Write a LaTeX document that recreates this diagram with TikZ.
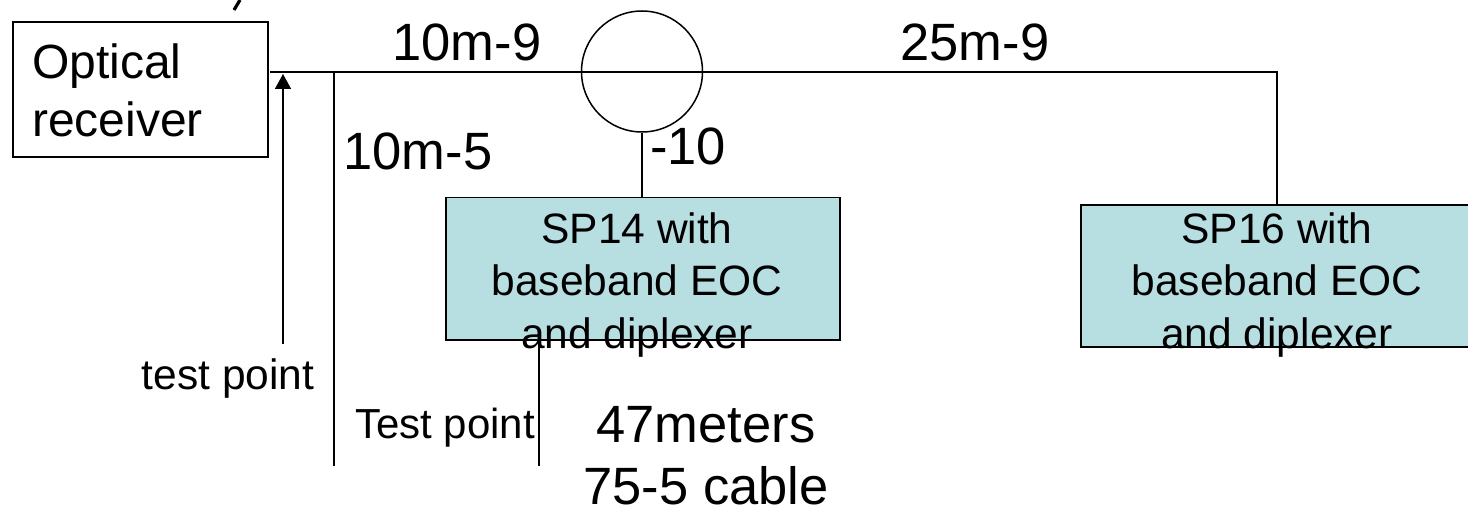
\documentclass[tikz,border=0pt]{standalone}
\usepackage{fontspec}
\setmainfont{Liberation Sans}
\usetikzlibrary{arrows.meta}
\tikzset{
  px/.style={x=1pt,y=-1pt},
  wire/.style={draw=black,line width=1.5pt},
  boxa/.style={draw=black,line width=1.7pt,minimum width=255pt,minimum height=135pt,inner sep=0pt,anchor=north west},
  spbox/.style={draw=black,fill=spfill,line width=1.5pt,inner sep=0pt,anchor=north west,minimum height=142pt},
  rxfont/.style={font=\fontsize{48}{58}\selectfont,inner sep=0pt,align=left},
  big/.style={font=\fontsize{52.5}{62}\selectfont,inner sep=0pt,align=center},
  mid/.style={font=\fontsize{42.5}{52.5}\selectfont,inner sep=0pt,align=center},
}
\definecolor{spfill}{HTML}{B7DEE1}
\begin{document}
\begin{tikzpicture}[px]
\useasboundingbox (0,0) rectangle (1468,508);
\fill[white] (0,0) rectangle (1468,508);
\begin{scope}
\clip (0,0) rectangle (1468,508);
\draw[line width=3.2pt] (240,0) -- (234,10);
\node[boxa] (rx) at (12,21) {};
\node[rxfont,anchor=west] (rxt) at (32,90.5) {Optical\\receiver};
\node[spbox,minimum width=394pt] (sp14) at (445,197) {};
\node[spbox,minimum width=390pt] (sp16) at (1080,204) {};
\node[mid] (sp14t) at (637,285) {SP14 with\\baseband EOC\\and diplexer};
\node[mid] (sp16t) at (1277,285) {SP16 with\\baseband EOC\\and diplexer};
\node[circle,draw=black,line width=1.5pt,minimum size=121pt,inner sep=0pt] (tap) at (642,71.5) {};
\coordinate (start) at (270,72);
\coordinate (corner) at (1277,72);
\coordinate (j1) at (334,72);
\coordinate (j1e) at (334,466);
\coordinate (tp) at (283,344);
\coordinate (tph) at (283,74);
\coordinate (tp2) at (539,340);
\coordinate (tp2e) at (539,466);
\draw[wire] (start) -- (corner) -- (corner |- sp16.north);
\draw[wire] (j1) -- (j1e);
\draw[wire] (tap.south) -- (tap.south |- sp14.north);
\draw[wire] (tp2) -- (tp2e);
\draw[wire,-{Triangle[length=15pt,width=16pt]}] (tp) -- (tph);
\node[big] (l1) at (467,42) {10m-9};
\node[big] (l2) at (975,42) {25m-9};
\node[big] (l3) at (418,151) {10m-5};
\node[big] (l4) at (688,146) {-10};
\node[mid] (l5) at (228,379) {test point};
\node[mid,font=\fontsize{42}{52}\selectfont] (l6) at (445,428) {Test point};
\node[big] (l7) at (706,456) {47meters\\75-5 cable};
\end{scope}
\end{tikzpicture}
\end{document}
